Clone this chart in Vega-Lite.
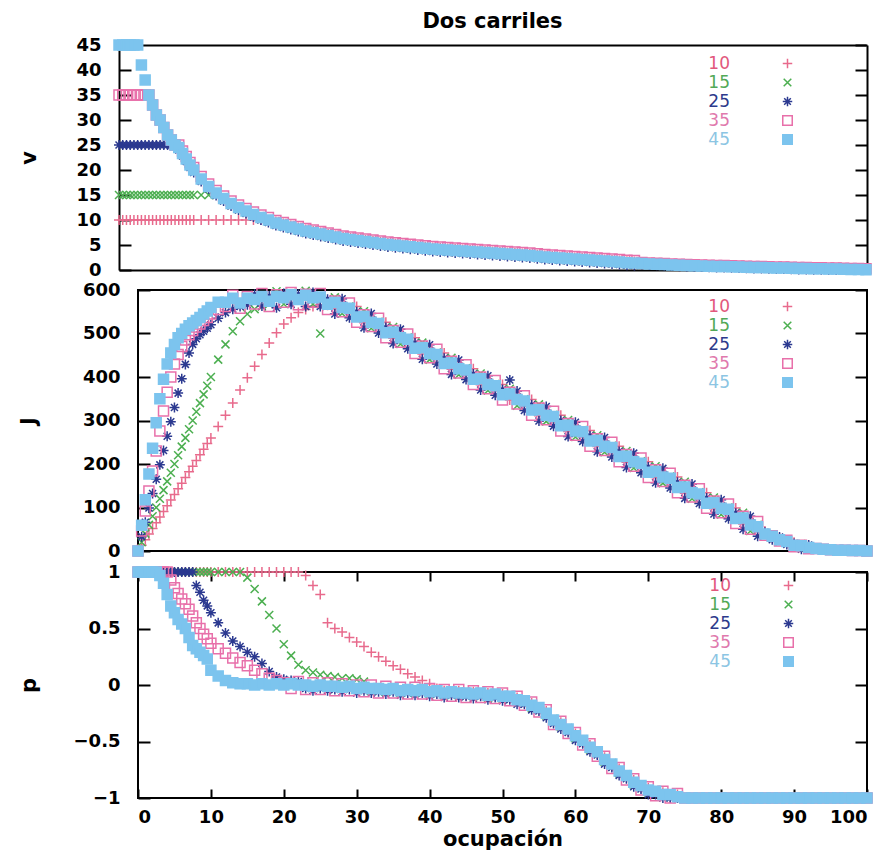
{
"$schema":"https://vega.github.io/schema/vega-lite/v6.json",
"background":"white",
"padding":{"left":17,"top":11,"right":10,"bottom":2},
"config":{
"font":"DejaVu Sans",
"view":{"stroke":"black","strokeWidth":2},
"axis":{"domain":false,"grid":false,"labelFont":"DejaVu Sans","labelFontWeight":"bold","labelFontSize":18,"labelColor":"black","tickColor":"black","tickWidth":2,"titleFont":"DejaVu Sans","titleFontWeight":"bold","titleFontSize":21,"titleColor":"black","domainColor":"black","domainWidth":2},
"legend":{"title":null,"labelAlign":"right","labelOffset":-66,"labelFontSize":17,"labelFont":"DejaVu Sans","rowPadding":1,"padding":0,"symbolSize":90,"symbolStrokeWidth":1.5,"labelColor":{"expr":"datum.value === '10' ? '#e2587c' : datum.value === '15' ? '#52a957' : datum.value === '25' ? '#2d3a8c' : datum.value === '35' ? '#e079ad' : '#8cc5e3'"}}
},
"datasets":{"d":[
{"s":"10","o":0,"v":10,"J":0,"p":1},{"s":"10","o":0.5,"v":10,"J":13,"p":1},{"s":"10","o":1,"v":10,"J":26,"p":1},{"s":"10","o":1.5,"v":10,"J":39,"p":1},{"s":"10","o":2,"v":10,"J":52,"p":1},{"s":"10","o":2.5,"v":10,"J":65,"p":1},{"s":"10","o":3,"v":10,"J":78,"p":1},{"s":"10","o":3.5,"v":10,"J":91,"p":1},{"s":"10","o":4,"v":10,"J":104,"p":1},{"s":"10","o":4.5,"v":10,"J":117,"p":1},{"s":"10","o":5,"v":10,"J":130,"p":1},{"s":"10","o":5.5,"v":10,"J":143,"p":1},{"s":"10","o":6,"v":10,"J":156,"p":1},{"s":"10","o":6.5,"v":10,"J":169,"p":1},{"s":"10","o":7,"v":10,"J":182,"p":1},{"s":"10","o":7.5,"v":10,"J":195,"p":1},{"s":"10","o":8,"v":10,"J":208,"p":1},{"s":"10","o":8.5,"v":10,"J":221,"p":1},{"s":"10","o":9,"v":10,"J":234,"p":1},{"s":"10","o":9.5,"v":10,"J":247,"p":1},{"s":"10","o":10,"v":10,"J":260,"p":1},
{"s":"10","o":11,"v":10,"J":286,"p":1},{"s":"10","o":12,"v":10,"J":312,"p":1},{"s":"10","o":13,"v":10,"J":340,"p":1},{"s":"10","o":14,"v":10,"J":370,"p":1},{"s":"10","o":15,"v":10,"J":398,"p":1},{"s":"10","o":16,"v":10,"J":425,"p":1},{"s":"10","o":17,"v":10,"J":452,"p":1},{"s":"10","o":18,"v":10,"J":478,"p":1},{"s":"10","o":19,"v":10,"J":502,"p":1},{"s":"10","o":20,"v":10,"J":522,"p":1},
{"s":"10","o":21,"v":9.7,"J":536,"p":1},{"s":"10","o":22,"v":9.3,"J":548,"p":1},{"s":"10","o":23,"v":8.9,"J":555,"p":0.97},{"s":"10","o":24,"v":8.5,"J":562,"p":0.88},{"s":"10","o":25,"v":8.1,"J":566,"p":0.8},{"s":"10","o":26,"v":7.8,"J":565,"p":0.55},{"s":"10","o":27,"v":7.5,"J":557,"p":0.5},{"s":"10","o":28,"v":7.2,"J":572,"p":0.47},{"s":"10","o":29,"v":6.9,"J":546,"p":0.42},{"s":"10","o":30,"v":6.6,"J":562,"p":0.38},
{"s":"10","o":31,"v":6.4,"J":525,"p":0.34},{"s":"10","o":32,"v":6.2,"J":538,"p":0.29},{"s":"10","o":33,"v":6,"J":511,"p":0.25},{"s":"10","o":34,"v":5.8,"J":526,"p":0.21},{"s":"10","o":35,"v":5.6,"J":489,"p":0.17},{"s":"10","o":36,"v":5.4,"J":502,"p":0.14},{"s":"10","o":37,"v":5.25,"J":475,"p":0.1},{"s":"10","o":38,"v":5.1,"J":490,"p":0.07},{"s":"10","o":39,"v":4.95,"J":453,"p":0.04},{"s":"10","o":40,"v":4.8,"J":466,"p":0.01},
{"s":"10","o":41,"v":4.65,"J":440,"p":-0.03},{"s":"10","o":42,"v":4.5,"J":455,"p":-0.05},{"s":"10","o":43,"v":4.4,"J":418,"p":-0.08},{"s":"10","o":44,"v":4.3,"J":431,"p":-0.05},{"s":"10","o":45,"v":4.2,"J":404,"p":-0.09},{"s":"10","o":46,"v":4.1,"J":419,"p":-0.06},{"s":"10","o":47,"v":4,"J":382,"p":-0.09},{"s":"10","o":48,"v":3.9,"J":395,"p":-0.07},{"s":"10","o":49,"v":3.8,"J":368,"p":-0.1},{"s":"10","o":50,"v":3.7,"J":383,"p":-0.08},
{"s":"10","o":51,"v":3.6,"J":347,"p":-0.12},{"s":"10","o":52,"v":3.5,"J":360,"p":-0.11},{"s":"10","o":53,"v":3.4,"J":333,"p":-0.16},{"s":"10","o":54,"v":3.3,"J":348,"p":-0.16},{"s":"10","o":55,"v":3.2,"J":311,"p":-0.22},{"s":"10","o":56,"v":3.05,"J":324,"p":-0.23},{"s":"10","o":57,"v":2.9,"J":297,"p":-0.33},{"s":"10","o":58,"v":2.8,"J":312,"p":-0.33},{"s":"10","o":59,"v":2.7,"J":275,"p":-0.41},{"s":"10","o":60,"v":2.6,"J":288,"p":-0.43},
{"s":"10","o":61,"v":2.5,"J":262,"p":-0.51},{"s":"10","o":62,"v":2.4,"J":277,"p":-0.53},{"s":"10","o":63,"v":2.3,"J":240,"p":-0.61},{"s":"10","o":64,"v":2.2,"J":253,"p":-0.64},{"s":"10","o":65,"v":2.1,"J":226,"p":-0.72},{"s":"10","o":66,"v":2,"J":241,"p":-0.74},{"s":"10","o":67,"v":1.9,"J":204,"p":-0.82},{"s":"10","o":68,"v":1.75,"J":217,"p":-0.84},{"s":"10","o":69,"v":1.7,"J":190,"p":-0.91},{"s":"10","o":70,"v":1.4,"J":205,"p":-0.91},
{"s":"10","o":71,"v":1.3,"J":169,"p":-0.96},{"s":"10","o":72,"v":1.25,"J":182,"p":-0.95},{"s":"10","o":73,"v":1.2,"J":155,"p":-0.99},{"s":"10","o":74,"v":1.1,"J":170,"p":-0.97},{"s":"10","o":75,"v":1.05,"J":133,"p":-1},{"s":"10","o":76,"v":1,"J":146,"p":-1},{"s":"10","o":77,"v":0.95,"J":119,"p":-1},{"s":"10","o":78,"v":0.9,"J":134,"p":-1},{"s":"10","o":79,"v":0.85,"J":97,"p":-1},{"s":"10","o":80,"v":0.8,"J":110,"p":-1},
{"s":"10","o":81,"v":0.8,"J":84,"p":-1},{"s":"10","o":82,"v":0.75,"J":99,"p":-1},{"s":"10","o":83,"v":0.7,"J":62,"p":-1},{"s":"10","o":84,"v":0.65,"J":72,"p":-1},{"s":"10","o":85,"v":0.6,"J":44,"p":-1},{"s":"10","o":86,"v":0.6,"J":46,"p":-1},{"s":"10","o":87,"v":0.55,"J":30,"p":-1},{"s":"10","o":88,"v":0.5,"J":30,"p":-1},{"s":"10","o":89,"v":0.5,"J":18,"p":-1},{"s":"10","o":90,"v":0.45,"J":20,"p":-1},
{"s":"10","o":91,"v":0.4,"J":8,"p":-1},{"s":"10","o":92,"v":0.4,"J":12,"p":-1},{"s":"10","o":93,"v":0.35,"J":6,"p":-1},{"s":"10","o":94,"v":0.35,"J":4,"p":-1},{"s":"10","o":95,"v":0.3,"J":3,"p":-1},{"s":"10","o":96,"v":0.3,"J":2,"p":-1},{"s":"10","o":97,"v":0.25,"J":2,"p":-1},{"s":"10","o":98,"v":0.2,"J":1,"p":-1},{"s":"10","o":99,"v":0.2,"J":1,"p":-1},{"s":"10","o":100,"v":0.15,"J":0,"p":-1},

{"s":"15","o":0,"v":15,"J":0,"p":1},{"s":"15","o":0.5,"v":15,"J":20,"p":1},{"s":"15","o":1,"v":15,"J":40,"p":1},{"s":"15","o":1.5,"v":15,"J":60,"p":1},{"s":"15","o":2,"v":15,"J":80,"p":1},{"s":"15","o":2.5,"v":15,"J":100,"p":1},{"s":"15","o":3,"v":15,"J":120,"p":1},{"s":"15","o":3.5,"v":15,"J":140,"p":1},{"s":"15","o":4,"v":15,"J":160,"p":1},{"s":"15","o":4.5,"v":15,"J":180,"p":1},{"s":"15","o":5,"v":15,"J":200,"p":1},{"s":"15","o":5.5,"v":15,"J":220,"p":1},{"s":"15","o":6,"v":15,"J":240,"p":1},{"s":"15","o":6.5,"v":15,"J":260,"p":1},{"s":"15","o":7,"v":15,"J":280,"p":1},{"s":"15","o":7.5,"v":15,"J":300,"p":1},{"s":"15","o":8,"v":15,"J":320,"p":1},{"s":"15","o":8.5,"v":15,"J":340,"p":1},{"s":"15","o":9,"v":15,"J":360,"p":1},{"s":"15","o":9.5,"v":15,"J":380,"p":1},{"s":"15","o":10,"v":15,"J":400,"p":1},
{"s":"15","o":11,"v":15,"J":440,"p":1},{"s":"15","o":12,"v":15,"J":475,"p":1},{"s":"15","o":13,"v":15,"J":505,"p":1},{"s":"15","o":14,"v":14,"J":528,"p":1},{"s":"15","o":15,"v":13,"J":545,"p":0.95},{"s":"15","o":16,"v":12.2,"J":556,"p":0.85},{"s":"15","o":17,"v":11.5,"J":562,"p":0.74},{"s":"15","o":18,"v":10.8,"J":568,"p":0.62},{"s":"15","o":19,"v":10.2,"J":597,"p":0.5},{"s":"15","o":20,"v":9.7,"J":568,"p":0.36},
{"s":"15","o":21,"v":9.1,"J":593,"p":0.26},{"s":"15","o":22,"v":8.7,"J":580,"p":0.18},{"s":"15","o":23,"v":8.3,"J":598,"p":0.13},{"s":"15","o":24,"v":7.9,"J":568,"p":0.11},{"s":"15","o":25,"v":7.5,"J":500,"p":0.09},{"s":"15","o":26,"v":7.2,"J":569,"p":0.08},{"s":"15","o":27,"v":6.9,"J":583,"p":0.07},{"s":"15","o":28,"v":6.6,"J":546,"p":0.06},{"s":"15","o":29,"v":6.3,"J":562,"p":0.06},{"s":"15","o":30,"v":6,"J":540,"p":0.05},
{"s":"15","o":31,"v":5.8,"J":551,"p":0.03},{"s":"15","o":32,"v":5.6,"J":512,"p":-0.05},{"s":"15","o":33,"v":5.4,"J":527,"p":-0.02},{"s":"15","o":34,"v":5.2,"J":504,"p":-0.06},{"s":"15","o":35,"v":5,"J":515,"p":-0.02},{"s":"15","o":36,"v":4.8,"J":476,"p":-0.07},{"s":"15","o":37,"v":4.65,"J":491,"p":-0.03},{"s":"15","o":38,"v":4.5,"J":468,"p":-0.07},{"s":"15","o":39,"v":4.35,"J":479,"p":-0.03},{"s":"15","o":40,"v":4.2,"J":440,"p":-0.08},
{"s":"15","o":41,"v":4.05,"J":456,"p":-0.04},{"s":"15","o":42,"v":3.9,"J":433,"p":-0.09},{"s":"15","o":43,"v":3.8,"J":444,"p":-0.05},{"s":"15","o":44,"v":3.7,"J":405,"p":-0.09},{"s":"15","o":45,"v":3.6,"J":420,"p":-0.06},{"s":"15","o":46,"v":3.5,"J":397,"p":-0.1},{"s":"15","o":47,"v":3.4,"J":408,"p":-0.06},{"s":"15","o":48,"v":3.3,"J":369,"p":-0.11},{"s":"15","o":49,"v":3.2,"J":384,"p":-0.07},{"s":"15","o":50,"v":3.1,"J":361,"p":-0.12},
{"s":"15","o":51,"v":3,"J":373,"p":-0.09},{"s":"15","o":52,"v":2.9,"J":334,"p":-0.15},{"s":"15","o":53,"v":2.8,"J":349,"p":-0.13},{"s":"15","o":54,"v":2.7,"J":326,"p":-0.2},{"s":"15","o":55,"v":2.6,"J":337,"p":-0.19},{"s":"15","o":56,"v":2.45,"J":298,"p":-0.27},{"s":"15","o":57,"v":2.3,"J":313,"p":-0.3},{"s":"15","o":58,"v":2.2,"J":290,"p":-0.37},{"s":"15","o":59,"v":2.1,"J":301,"p":-0.38},{"s":"15","o":60,"v":2,"J":262,"p":-0.47},
{"s":"15","o":61,"v":1.9,"J":278,"p":-0.48},{"s":"15","o":62,"v":1.8,"J":255,"p":-0.57},{"s":"15","o":63,"v":1.7,"J":266,"p":-0.58},{"s":"15","o":64,"v":1.6,"J":227,"p":-0.68},{"s":"15","o":65,"v":1.5,"J":242,"p":-0.69},{"s":"15","o":66,"v":1.4,"J":219,"p":-0.78},{"s":"15","o":67,"v":1.3,"J":230,"p":-0.79},{"s":"15","o":68,"v":1.15,"J":191,"p":-0.88},{"s":"15","o":69,"v":1.1,"J":206,"p":-0.88},{"s":"15","o":70,"v":1.2,"J":183,"p":-0.95},
{"s":"15","o":71,"v":1.1,"J":195,"p":-0.93},{"s":"15","o":72,"v":1.05,"J":156,"p":-0.99},{"s":"15","o":73,"v":1,"J":171,"p":-0.96},{"s":"15","o":74,"v":0.9,"J":148,"p":-1},{"s":"15","o":75,"v":0.85,"J":159,"p":-1},{"s":"15","o":76,"v":0.8,"J":120,"p":-1},{"s":"15","o":77,"v":0.75,"J":135,"p":-1},{"s":"15","o":78,"v":0.7,"J":112,"p":-1},{"s":"15","o":79,"v":0.65,"J":123,"p":-1},{"s":"15","o":80,"v":0.6,"J":84,"p":-1},
{"s":"15","o":81,"v":0.6,"J":100,"p":-1},{"s":"15","o":82,"v":0.55,"J":77,"p":-1},{"s":"15","o":83,"v":0.5,"J":88,"p":-1},{"s":"15","o":84,"v":0.45,"J":46,"p":-1},{"s":"15","o":85,"v":0.4,"J":60,"p":-1},{"s":"15","o":86,"v":0.4,"J":40,"p":-1},{"s":"15","o":87,"v":0.35,"J":38,"p":-1},{"s":"15","o":88,"v":0.3,"J":22,"p":-1},{"s":"15","o":89,"v":0.3,"J":23,"p":-1},{"s":"15","o":90,"v":0.25,"J":14,"p":-1},
{"s":"15","o":91,"v":0.2,"J":16,"p":-1},{"s":"15","o":92,"v":0.2,"J":4,"p":-1},{"s":"15","o":93,"v":0.15,"J":6,"p":-1},{"s":"15","o":94,"v":0.15,"J":4,"p":-1},{"s":"15","o":95,"v":0.1,"J":3,"p":-1},{"s":"15","o":96,"v":0.1,"J":2,"p":-1},{"s":"15","o":97,"v":0.05,"J":2,"p":-1},{"s":"15","o":98,"v":0.02,"J":1,"p":-1},{"s":"15","o":99,"v":0.02,"J":1,"p":-1},{"s":"15","o":100,"v":0.02,"J":0,"p":-1},

{"s":"25","o":0,"v":25,"J":0,"p":1},{"s":"25","o":0.5,"v":25,"J":33,"p":1},{"s":"25","o":1,"v":25,"J":66,"p":1},{"s":"25","o":1.5,"v":25,"J":99,"p":1},{"s":"25","o":2,"v":25,"J":132,"p":1},{"s":"25","o":2.5,"v":25,"J":165,"p":1},{"s":"25","o":3,"v":25,"J":198,"p":1},{"s":"25","o":3.5,"v":25,"J":231,"p":1},{"s":"25","o":4,"v":25,"J":264,"p":1},{"s":"25","o":4.5,"v":25,"J":297,"p":1},{"s":"25","o":5,"v":25,"J":330,"p":1},{"s":"25","o":5.5,"v":25,"J":363,"p":1},{"s":"25","o":6,"v":25,"J":396,"p":1},{"s":"25","o":6.5,"v":25,"J":429,"p":1},{"s":"25","o":7,"v":25,"J":455,"p":1},{"s":"25","o":7.5,"v":25,"J":475,"p":1},{"s":"25","o":8,"v":24,"J":488,"p":0.88},{"s":"25","o":8.5,"v":22.8,"J":497,"p":0.82},{"s":"25","o":9,"v":21.7,"J":505,"p":0.75},{"s":"25","o":9.5,"v":20.5,"J":512,"p":0.7},{"s":"25","o":10,"v":19.5,"J":520,"p":0.64},
{"s":"25","o":11,"v":17.7,"J":535,"p":0.55},{"s":"25","o":12,"v":16.2,"J":548,"p":0.46},{"s":"25","o":13,"v":14.9,"J":556,"p":0.39},{"s":"25","o":14,"v":13.8,"J":562,"p":0.34},{"s":"25","o":15,"v":12.8,"J":566,"p":0.29},{"s":"25","o":16,"v":12,"J":590,"p":0.25},{"s":"25","o":17,"v":11.3,"J":563,"p":0.19},{"s":"25","o":18,"v":10.6,"J":586,"p":0.12},{"s":"25","o":19,"v":10,"J":559,"p":0.07},{"s":"25","o":20,"v":9.5,"J":592,"p":0.05},
{"s":"25","o":21,"v":8.9,"J":567,"p":0.04},{"s":"25","o":22,"v":8.5,"J":590,"p":0.03},{"s":"25","o":23,"v":8.1,"J":562,"p":-0.03},{"s":"25","o":24,"v":7.7,"J":594,"p":-0.05},{"s":"25","o":25,"v":7.3,"J":562,"p":-0.03},{"s":"25","o":26,"v":7,"J":579,"p":-0.05},{"s":"25","o":27,"v":6.7,"J":545,"p":-0.04},{"s":"25","o":28,"v":6.4,"J":580,"p":-0.06},{"s":"25","o":29,"v":6.1,"J":536,"p":-0.04},{"s":"25","o":30,"v":5.8,"J":550,"p":-0.07},
{"s":"25","o":31,"v":5.6,"J":513,"p":-0.05},{"s":"25","o":32,"v":5.4,"J":546,"p":-0.07},{"s":"25","o":33,"v":5.2,"J":501,"p":-0.06},{"s":"25","o":34,"v":5,"J":514,"p":-0.08},{"s":"25","o":35,"v":4.8,"J":477,"p":-0.06},{"s":"25","o":36,"v":4.6,"J":510,"p":-0.09},{"s":"25","o":37,"v":4.45,"J":465,"p":-0.07},{"s":"25","o":38,"v":4.3,"J":478,"p":-0.09},{"s":"25","o":39,"v":4.15,"J":441,"p":-0.07},{"s":"25","o":40,"v":4,"J":474,"p":-0.1},
{"s":"25","o":41,"v":3.85,"J":430,"p":-0.08},{"s":"25","o":42,"v":3.7,"J":443,"p":-0.11},{"s":"25","o":43,"v":3.6,"J":406,"p":-0.09},{"s":"25","o":44,"v":3.5,"J":439,"p":-0.11},{"s":"25","o":45,"v":3.4,"J":394,"p":-0.1},{"s":"25","o":46,"v":3.3,"J":407,"p":-0.12},{"s":"25","o":47,"v":3.2,"J":370,"p":-0.1},{"s":"25","o":48,"v":3.1,"J":403,"p":-0.13},{"s":"25","o":49,"v":3,"J":358,"p":-0.11},{"s":"25","o":50,"v":2.9,"J":371,"p":-0.14},
{"s":"25","o":51,"v":2.8,"J":393,"p":-0.13},{"s":"25","o":52,"v":2.7,"J":368,"p":-0.17},{"s":"25","o":53,"v":2.6,"J":323,"p":-0.17},{"s":"25","o":54,"v":2.5,"J":336,"p":-0.22},{"s":"25","o":55,"v":2.4,"J":299,"p":-0.23},{"s":"25","o":56,"v":2.25,"J":332,"p":-0.29},{"s":"25","o":57,"v":2.1,"J":287,"p":-0.34},{"s":"25","o":58,"v":2,"J":300,"p":-0.39},{"s":"25","o":59,"v":1.9,"J":263,"p":-0.42},{"s":"25","o":60,"v":1.8,"J":296,"p":-0.49},
{"s":"25","o":61,"v":1.7,"J":252,"p":-0.52},{"s":"25","o":62,"v":1.6,"J":265,"p":-0.59},{"s":"25","o":63,"v":1.5,"J":228,"p":-0.62},{"s":"25","o":64,"v":1.4,"J":261,"p":-0.7},{"s":"25","o":65,"v":1.3,"J":216,"p":-0.73},{"s":"25","o":66,"v":1.2,"J":229,"p":-0.8},{"s":"25","o":67,"v":1.1,"J":192,"p":-0.83},{"s":"25","o":68,"v":0.95,"J":225,"p":-0.9},{"s":"25","o":69,"v":0.9,"J":180,"p":-0.92},{"s":"25","o":70,"v":1.1,"J":193,"p":-0.97},
{"s":"25","o":71,"v":1,"J":157,"p":-0.97},{"s":"25","o":72,"v":0.95,"J":190,"p":-1},{"s":"25","o":73,"v":0.9,"J":145,"p":-1},{"s":"25","o":74,"v":0.8,"J":158,"p":-1},{"s":"25","o":75,"v":0.75,"J":121,"p":-1},{"s":"25","o":76,"v":0.7,"J":154,"p":-1},{"s":"25","o":77,"v":0.65,"J":109,"p":-1},{"s":"25","o":78,"v":0.6,"J":122,"p":-1},{"s":"25","o":79,"v":0.55,"J":85,"p":-1},{"s":"25","o":80,"v":0.5,"J":118,"p":-1},
{"s":"25","o":81,"v":0.5,"J":74,"p":-1},{"s":"25","o":82,"v":0.45,"J":87,"p":-1},{"s":"25","o":83,"v":0.4,"J":50,"p":-1},{"s":"25","o":84,"v":0.35,"J":80,"p":-1},{"s":"25","o":85,"v":0.3,"J":34,"p":-1},{"s":"25","o":86,"v":0.3,"J":43,"p":-1},{"s":"25","o":87,"v":0.25,"J":26,"p":-1},{"s":"25","o":88,"v":0.2,"J":32,"p":-1},{"s":"25","o":89,"v":0.2,"J":15,"p":-1},{"s":"25","o":90,"v":0.15,"J":17,"p":-1},
{"s":"25","o":91,"v":0.1,"J":4,"p":-1},{"s":"25","o":92,"v":0.1,"J":14,"p":-1},{"s":"25","o":93,"v":0.05,"J":6,"p":-1},{"s":"25","o":94,"v":0.05,"J":4,"p":-1},{"s":"25","o":95,"v":0.02,"J":3,"p":-1},{"s":"25","o":96,"v":0.02,"J":2,"p":-1},{"s":"25","o":97,"v":0.02,"J":2,"p":-1},{"s":"25","o":98,"v":0.02,"J":1,"p":-1},{"s":"25","o":99,"v":0.02,"J":1,"p":-1},{"s":"25","o":100,"v":0.02,"J":0,"p":-1},

{"s":"35","o":0,"v":35,"J":0,"p":1},{"s":"35","o":0.5,"v":35,"J":46,"p":1},{"s":"35","o":1,"v":35,"J":92,"p":1},{"s":"35","o":1.5,"v":35,"J":138,"p":1},{"s":"35","o":2,"v":35,"J":184,"p":1},{"s":"35","o":2.5,"v":35,"J":230,"p":1},{"s":"35","o":3,"v":35,"J":276,"p":1},{"s":"35","o":3.5,"v":35,"J":322,"p":1},{"s":"35","o":4,"v":35,"J":365,"p":1},{"s":"35","o":4.5,"v":33,"J":400,"p":0.93},{"s":"35","o":5,"v":31,"J":430,"p":0.86},{"s":"35","o":5.5,"v":30,"J":452,"p":0.81},{"s":"35","o":6,"v":28.5,"J":470,"p":0.76},{"s":"35","o":6.5,"v":27,"J":485,"p":0.72},{"s":"35","o":7,"v":26,"J":497,"p":0.67},{"s":"35","o":7.5,"v":25,"J":507,"p":0.61},{"s":"35","o":8,"v":25,"J":515,"p":0.55},{"s":"35","o":8.5,"v":23.8,"J":522,"p":0.5},{"s":"35","o":9,"v":22.7,"J":530,"p":0.45},{"s":"35","o":9.5,"v":21.5,"J":537,"p":0.41},{"s":"35","o":10,"v":20.5,"J":545,"p":0.37},
{"s":"35","o":11,"v":18.7,"J":555,"p":0.32},{"s":"35","o":12,"v":17.2,"J":562,"p":0.28},{"s":"35","o":13,"v":15.9,"J":588,"p":0.24},{"s":"35","o":14,"v":14.8,"J":558,"p":0.2},{"s":"35","o":15,"v":13.8,"J":585,"p":0.17},{"s":"35","o":16,"v":13,"J":568,"p":0.13},{"s":"35","o":17,"v":12.3,"J":592,"p":0.1},{"s":"35","o":18,"v":11.6,"J":562,"p":0.06},{"s":"35","o":19,"v":11,"J":589,"p":0.04},{"s":"35","o":20,"v":10.5,"J":572,"p":0.02},
{"s":"35","o":21,"v":9.9,"J":594,"p":-0.03},{"s":"35","o":22,"v":9.5,"J":566,"p":0.03},{"s":"35","o":23,"v":9.1,"J":590,"p":-0.04},{"s":"35","o":24,"v":8.7,"J":572,"p":0.02},{"s":"35","o":25,"v":8.3,"J":592,"p":-0.04},{"s":"35","o":26,"v":8,"J":555,"p":0.02},{"s":"35","o":27,"v":7.7,"J":575,"p":-0.05},{"s":"35","o":28,"v":7.4,"J":550,"p":0.01},{"s":"35","o":29,"v":7.1,"J":570,"p":-0.05},{"s":"35","o":30,"v":6.8,"J":526,"p":0},
{"s":"35","o":31,"v":6.6,"J":543,"p":-0.06},{"s":"35","o":32,"v":6.4,"J":516,"p":0},{"s":"35","o":33,"v":6.2,"J":535,"p":-0.07},{"s":"35","o":34,"v":6,"J":490,"p":-0.01},{"s":"35","o":35,"v":5.8,"J":507,"p":-0.07},{"s":"35","o":36,"v":5.6,"J":480,"p":-0.02},{"s":"35","o":37,"v":5.45,"J":499,"p":-0.08},{"s":"35","o":38,"v":5.3,"J":454,"p":-0.02},{"s":"35","o":39,"v":5.15,"J":471,"p":-0.08},{"s":"35","o":40,"v":5,"J":444,"p":-0.03},
{"s":"35","o":41,"v":4.85,"J":464,"p":-0.09},{"s":"35","o":42,"v":4.7,"J":419,"p":-0.04},{"s":"35","o":43,"v":4.6,"J":436,"p":-0.1},{"s":"35","o":44,"v":4.5,"J":409,"p":-0.04},{"s":"35","o":45,"v":4.4,"J":428,"p":-0.11},{"s":"35","o":46,"v":4.3,"J":383,"p":-0.05},{"s":"35","o":47,"v":4.2,"J":400,"p":-0.11},{"s":"35","o":48,"v":4.1,"J":373,"p":-0.06},{"s":"35","o":49,"v":4,"J":392,"p":-0.12},{"s":"35","o":50,"v":3.9,"J":347,"p":-0.07},
{"s":"35","o":51,"v":3.8,"J":365,"p":-0.14},{"s":"35","o":52,"v":3.7,"J":338,"p":-0.1},{"s":"35","o":53,"v":3.6,"J":357,"p":-0.18},{"s":"35","o":54,"v":3.5,"J":312,"p":-0.15},{"s":"35","o":55,"v":3.4,"J":329,"p":-0.24},{"s":"35","o":56,"v":3.25,"J":302,"p":-0.22},{"s":"35","o":57,"v":3.1,"J":321,"p":-0.35},{"s":"35","o":58,"v":3,"J":276,"p":-0.32},{"s":"35","o":59,"v":2.9,"J":293,"p":-0.43},{"s":"35","o":60,"v":2.8,"J":266,"p":-0.42},
{"s":"35","o":61,"v":2.7,"J":286,"p":-0.53},{"s":"35","o":62,"v":2.6,"J":241,"p":-0.52},{"s":"35","o":63,"v":2.5,"J":258,"p":-0.63},{"s":"35","o":64,"v":2.4,"J":231,"p":-0.63},{"s":"35","o":65,"v":2.3,"J":250,"p":-0.74},{"s":"35","o":66,"v":2.2,"J":205,"p":-0.73},{"s":"35","o":67,"v":2.1,"J":222,"p":-0.84},{"s":"35","o":68,"v":1.95,"J":195,"p":-0.83},{"s":"35","o":69,"v":1.9,"J":214,"p":-0.93},{"s":"35","o":70,"v":1.5,"J":169,"p":-0.9},
{"s":"35","o":71,"v":1.4,"J":187,"p":-0.98},{"s":"35","o":72,"v":1.35,"J":160,"p":-0.94},{"s":"35","o":73,"v":1.3,"J":179,"p":-1},{"s":"35","o":74,"v":1.2,"J":134,"p":-0.96},{"s":"35","o":75,"v":1.15,"J":151,"p":-1},{"s":"35","o":76,"v":1.1,"J":124,"p":-1},{"s":"35","o":77,"v":1.05,"J":143,"p":-1},{"s":"35","o":78,"v":1,"J":98,"p":-1},{"s":"35","o":79,"v":0.95,"J":115,"p":-1},{"s":"35","o":80,"v":0.9,"J":88,"p":-1},
{"s":"35","o":81,"v":0.9,"J":108,"p":-1},{"s":"35","o":82,"v":0.85,"J":63,"p":-1},{"s":"35","o":83,"v":0.8,"J":80,"p":-1},{"s":"35","o":84,"v":0.75,"J":50,"p":-1},{"s":"35","o":85,"v":0.7,"J":68,"p":-1},{"s":"35","o":86,"v":0.7,"J":36,"p":-1},{"s":"35","o":87,"v":0.65,"J":35,"p":-1},{"s":"35","o":88,"v":0.6,"J":23,"p":-1},{"s":"35","o":89,"v":0.6,"J":25,"p":-1},{"s":"35","o":90,"v":0.55,"J":10,"p":-1},
{"s":"35","o":91,"v":0.5,"J":13,"p":-1},{"s":"35","o":92,"v":0.5,"J":5,"p":-1},{"s":"35","o":93,"v":0.45,"J":6,"p":-1},{"s":"35","o":94,"v":0.45,"J":4,"p":-1},{"s":"35","o":95,"v":0.4,"J":3,"p":-1},{"s":"35","o":96,"v":0.4,"J":2,"p":-1},{"s":"35","o":97,"v":0.35,"J":2,"p":-1},{"s":"35","o":98,"v":0.3,"J":1,"p":-1},{"s":"35","o":99,"v":0.3,"J":1,"p":-1},{"s":"35","o":100,"v":0.25,"J":0,"p":-1},

{"s":"45","o":0,"v":45,"J":0,"p":1},{"s":"45","o":0.5,"v":45,"J":59,"p":1},{"s":"45","o":1,"v":45,"J":118,"p":1},{"s":"45","o":1.5,"v":45,"J":177,"p":1},{"s":"45","o":2,"v":45,"J":236,"p":1},{"s":"45","o":2.5,"v":45,"J":295,"p":1},{"s":"45","o":3,"v":41,"J":350,"p":0.97},{"s":"45","o":3.5,"v":38,"J":395,"p":0.9},{"s":"45","o":4,"v":35,"J":430,"p":0.8},{"s":"45","o":4.5,"v":33,"J":455,"p":0.7},{"s":"45","o":5,"v":31,"J":475,"p":0.64},{"s":"45","o":5.5,"v":30,"J":490,"p":0.58},{"s":"45","o":6,"v":28.5,"J":500,"p":0.54},{"s":"45","o":6.5,"v":27,"J":510,"p":0.5},{"s":"45","o":7,"v":26,"J":518,"p":0.42},{"s":"45","o":7.5,"v":25,"J":524,"p":0.35},{"s":"45","o":8,"v":24.5,"J":530,"p":0.32},{"s":"45","o":8.5,"v":23.3,"J":537,"p":0.29},{"s":"45","o":9,"v":22.2,"J":545,"p":0.26},{"s":"45","o":9.5,"v":21,"J":552,"p":0.23},{"s":"45","o":10,"v":20,"J":560,"p":0.13},
{"s":"45","o":11,"v":18.2,"J":572,"p":0.08},{"s":"45","o":12,"v":16.7,"J":572,"p":0.04},{"s":"45","o":13,"v":15.4,"J":581,"p":0.02},{"s":"45","o":14,"v":14.3,"J":570,"p":0.01},{"s":"45","o":15,"v":13.3,"J":581,"p":0.01},{"s":"45","o":16,"v":12.5,"J":578,"p":0},{"s":"45","o":17,"v":11.8,"J":585,"p":0.01},{"s":"45","o":18,"v":11.1,"J":574,"p":0},{"s":"45","o":19,"v":10.5,"J":585,"p":0.01},{"s":"45","o":20,"v":10,"J":582,"p":0},
{"s":"45","o":21,"v":9.4,"J":589,"p":0.01},{"s":"45","o":22,"v":9,"J":578,"p":0},{"s":"45","o":23,"v":8.6,"J":588,"p":0},{"s":"45","o":24,"v":8.2,"J":582,"p":-0.01},{"s":"45","o":25,"v":7.8,"J":584,"p":0},{"s":"45","o":26,"v":7.5,"J":567,"p":-0.01},{"s":"45","o":27,"v":7.2,"J":571,"p":-0.01},{"s":"45","o":28,"v":6.9,"J":560,"p":-0.02},{"s":"45","o":29,"v":6.6,"J":558,"p":-0.01},{"s":"45","o":30,"v":6.3,"J":538,"p":-0.03},
{"s":"45","o":31,"v":6.1,"J":539,"p":-0.02},{"s":"45","o":32,"v":5.9,"J":526,"p":-0.03},{"s":"45","o":33,"v":5.7,"J":523,"p":-0.03},{"s":"45","o":34,"v":5.5,"J":502,"p":-0.04},{"s":"45","o":35,"v":5.3,"J":503,"p":-0.03},{"s":"45","o":36,"v":5.1,"J":490,"p":-0.05},{"s":"45","o":37,"v":4.95,"J":487,"p":-0.04},{"s":"45","o":38,"v":4.8,"J":466,"p":-0.05},{"s":"45","o":39,"v":4.65,"J":467,"p":-0.04},{"s":"45","o":40,"v":4.5,"J":454,"p":-0.06},
{"s":"45","o":41,"v":4.35,"J":452,"p":-0.05},{"s":"45","o":42,"v":4.2,"J":431,"p":-0.07},{"s":"45","o":43,"v":4.1,"J":432,"p":-0.06},{"s":"45","o":44,"v":4,"J":419,"p":-0.07},{"s":"45","o":45,"v":3.9,"J":416,"p":-0.07},{"s":"45","o":46,"v":3.8,"J":395,"p":-0.08},{"s":"45","o":47,"v":3.7,"J":396,"p":-0.07},{"s":"45","o":48,"v":3.6,"J":383,"p":-0.09},{"s":"45","o":49,"v":3.5,"J":380,"p":-0.08},{"s":"45","o":50,"v":3.4,"J":359,"p":-0.1},
{"s":"45","o":51,"v":3.3,"J":361,"p":-0.1},{"s":"45","o":52,"v":3.2,"J":348,"p":-0.13},{"s":"45","o":53,"v":3.1,"J":345,"p":-0.14},{"s":"45","o":54,"v":3,"J":324,"p":-0.18},{"s":"45","o":55,"v":2.9,"J":325,"p":-0.2},{"s":"45","o":56,"v":2.75,"J":312,"p":-0.25},{"s":"45","o":57,"v":2.6,"J":309,"p":-0.31},{"s":"45","o":58,"v":2.5,"J":288,"p":-0.35},{"s":"45","o":59,"v":2.4,"J":289,"p":-0.39},{"s":"45","o":60,"v":2.3,"J":276,"p":-0.45},
{"s":"45","o":61,"v":2.2,"J":274,"p":-0.49},{"s":"45","o":62,"v":2.1,"J":253,"p":-0.55},{"s":"45","o":63,"v":2,"J":254,"p":-0.59},{"s":"45","o":64,"v":1.9,"J":241,"p":-0.66},{"s":"45","o":65,"v":1.8,"J":238,"p":-0.7},{"s":"45","o":66,"v":1.7,"J":217,"p":-0.76},{"s":"45","o":67,"v":1.6,"J":218,"p":-0.8},{"s":"45","o":68,"v":1.45,"J":205,"p":-0.86},{"s":"45","o":69,"v":1.4,"J":202,"p":-0.89},{"s":"45","o":70,"v":1.3,"J":181,"p":-0.93},
{"s":"45","o":71,"v":1.2,"J":183,"p":-0.94},{"s":"45","o":72,"v":1.15,"J":170,"p":-0.97},{"s":"45","o":73,"v":1.1,"J":167,"p":-0.97},{"s":"45","o":74,"v":1,"J":146,"p":-0.99},{"s":"45","o":75,"v":0.95,"J":147,"p":-1},{"s":"45","o":76,"v":0.9,"J":134,"p":-1},{"s":"45","o":77,"v":0.85,"J":131,"p":-1},{"s":"45","o":78,"v":0.8,"J":110,"p":-1},{"s":"45","o":79,"v":0.75,"J":111,"p":-1},{"s":"45","o":80,"v":0.7,"J":98,"p":-1},
{"s":"45","o":81,"v":0.7,"J":96,"p":-1},{"s":"45","o":82,"v":0.65,"J":75,"p":-1},{"s":"45","o":83,"v":0.6,"J":76,"p":-1},{"s":"45","o":84,"v":0.55,"J":60,"p":-1},{"s":"45","o":85,"v":0.5,"J":56,"p":-1},{"s":"45","o":86,"v":0.5,"J":39,"p":-1},{"s":"45","o":87,"v":0.45,"J":34,"p":-1},{"s":"45","o":88,"v":0.4,"J":26,"p":-1},{"s":"45","o":89,"v":0.4,"J":22,"p":-1},{"s":"45","o":90,"v":0.35,"J":13,"p":-1},
{"s":"45","o":91,"v":0.3,"J":12,"p":-1},{"s":"45","o":92,"v":0.3,"J":8,"p":-1},{"s":"45","o":93,"v":0.25,"J":6,"p":-1},{"s":"45","o":94,"v":0.25,"J":4,"p":-1},{"s":"45","o":95,"v":0.2,"J":3,"p":-1},{"s":"45","o":96,"v":0.2,"J":2,"p":-1},{"s":"45","o":97,"v":0.15,"J":2,"p":-1},{"s":"45","o":98,"v":0.1,"J":1,"p":-1},{"s":"45","o":99,"v":0.1,"J":1,"p":-1},{"s":"45","o":100,"v":0.05,"J":0,"p":-1}
]},
"bounds":"full",
"spacing":1,
"resolve":{"scale":{"x":"independent","y":"independent"},"legend":{"color":"independent","shape":"independent","fill":"independent"}},
"vconcat":[
{
"width":729,"height":225,
"view":{"stroke":null},
"title":{"text":"Dos carriles","font":"DejaVu Sans","fontSize":21,"fontWeight":"bold","color":"black","anchor":"middle","offset":4,"dx":-10},
"layer":[
{"data":{"name":"d"},"mark":{"type":"point","filled":false,"opacity":1,"size":100,"strokeWidth":1.5},
"encoding":{
"x":{"field":"o","type":"quantitative","scale":{"domain":[0,100],"range":[-19,728],"nice":false},"axis":{"orient":"bottom","domain":true,"ticks":false,"labels":false,"title":null}},
"y":{"field":"v","type":"quantitative","scale":{"domain":[0,45],"nice":false},"axis":{"title":"v","values":[0,5,10,15,20,25,30,35,40,45],"offset":19,"domain":true,"tickSize":-12,"labelPadding":30,"minExtent":78,"maxExtent":78,"titlePadding":2}},
"color":{"field":"s","type":"nominal","scale":{"domain":["10","15","25","35","45"],"range":["#e86a8c","#4caf50","#2b3990","#e870aa","#7cc4ee"]},"legend":{"orient":"none","legendX":641,"legendY":10}},
"shape":{"field":"s","type":"nominal","scale":{"domain":["10","15","25","35","45"],"range":["M-1,0L1,0M0,-1L0,1","M-0.8,-0.8L0.8,0.8M-0.8,0.8L0.8,-0.8","M-1,0L1,0M0,-1L0,1M-0.7,-0.7L0.7,0.7M-0.7,0.7L0.7,-0.7","square","square"]},"legend":{"orient":"none","legendX":641,"legendY":10}},
"fill":{"field":"s","type":"nominal","scale":{"domain":["10","15","25","35","45"],"range":["transparent","transparent","transparent","transparent","#7cc4ee"]},"legend":{"orient":"none","legendX":641,"legendY":10}}
}},
{"data":{"name":"d"},"mark":{"type":"point","opacity":0},
"encoding":{
"x":{"field":"o","type":"quantitative","axis":{"orient":"top","domain":true,"ticks":false,"labels":false,"title":null}},
"y":{"field":"v","type":"quantitative","axis":{"orient":"right","domain":true,"labels":false,"title":null,"tickSize":-12,"values":[0,5,10,15,20,25,30,35,40,45]}}}}
],
"resolve":{"axis":{"x":"independent","y":"independent"}}
},
{
"width":729,"height":261,
"layer":[
{"data":{"name":"d"},"mark":{"type":"point","filled":false,"opacity":1,"size":100,"strokeWidth":1.5},
"encoding":{
"x":{"field":"o","type":"quantitative","scale":{"domain":[0,100],"nice":false},"axis":null},
"y":{"field":"J","type":"quantitative","scale":{"domain":[0,600],"nice":false},"axis":{"title":"J","values":[0,100,200,300,400,500,600],"tickSize":-12,"labelPadding":30,"minExtent":97,"maxExtent":97,"titlePadding":2}},
"color":{"field":"s","type":"nominal","scale":{"domain":["10","15","25","35","45"],"range":["#e86a8c","#4caf50","#2b3990","#e870aa","#7cc4ee"]},"legend":{"orient":"none","legendX":641,"legendY":8}},
"shape":{"field":"s","type":"nominal","scale":{"domain":["10","15","25","35","45"],"range":["M-1,0L1,0M0,-1L0,1","M-0.8,-0.8L0.8,0.8M-0.8,0.8L0.8,-0.8","M-1,0L1,0M0,-1L0,1M-0.7,-0.7L0.7,0.7M-0.7,0.7L0.7,-0.7","square","square"]},"legend":{"orient":"none","legendX":641,"legendY":8}},
"fill":{"field":"s","type":"nominal","scale":{"domain":["10","15","25","35","45"],"range":["transparent","transparent","transparent","transparent","#7cc4ee"]},"legend":{"orient":"none","legendX":641,"legendY":8}}
}},
{"data":{"name":"d"},"mark":{"type":"point","opacity":0},
"encoding":{"y":{"field":"J","type":"quantitative","axis":{"orient":"right","labels":false,"title":null,"tickSize":-12,"values":[0,100,200,300,400,500,600]}}}}
],
"resolve":{"axis":{"y":"independent"}}
},
{
"width":729,"height":226,
"layer":[
{"data":{"name":"d"},"mark":{"type":"point","filled":false,"opacity":1,"size":100,"strokeWidth":1.5},
"encoding":{
"x":{"field":"o","type":"quantitative","scale":{"domain":[0,100],"nice":false},"axis":{"title":"ocupación","values":[0,10,20,30,40,50,60,70,80,90,100],"tickSize":-9,"labelPadding":19,"titlePadding":2}},
"y":{"field":"p","type":"quantitative","scale":{"domain":[-1,1],"nice":false},"axis":{"title":"p","values":[-1,-0.5,0,0.5,1],"format":"~g","tickSize":-12,"labelPadding":30,"minExtent":97,"maxExtent":97,"titlePadding":2}},
"color":{"field":"s","type":"nominal","scale":{"domain":["10","15","25","35","45"],"range":["#e86a8c","#4caf50","#2b3990","#e870aa","#7cc4ee"]},"legend":{"orient":"none","legendX":642,"legendY":5}},
"shape":{"field":"s","type":"nominal","scale":{"domain":["10","15","25","35","45"],"range":["M-1,0L1,0M0,-1L0,1","M-0.8,-0.8L0.8,0.8M-0.8,0.8L0.8,-0.8","M-1,0L1,0M0,-1L0,1M-0.7,-0.7L0.7,0.7M-0.7,0.7L0.7,-0.7","square","square"]},"legend":{"orient":"none","legendX":642,"legendY":5}},
"fill":{"field":"s","type":"nominal","scale":{"domain":["10","15","25","35","45"],"range":["transparent","transparent","transparent","transparent","#7cc4ee"]},"legend":{"orient":"none","legendX":642,"legendY":5}}
}},
{"data":{"name":"d"},"mark":{"type":"point","opacity":0},
"encoding":{
"x":{"field":"o","type":"quantitative","axis":{"orient":"top","labels":false,"title":null,"tickSize":-9,"values":[0,10,20,30,40,50,60,70,80,90,100]}},
"y":{"field":"p","type":"quantitative","axis":{"orient":"right","labels":false,"title":null,"tickSize":-12,"values":[-1,-0.5,0,0.5,1]}}}}
],
"resolve":{"axis":{"x":"independent","y":"independent"}}
}
]
}
